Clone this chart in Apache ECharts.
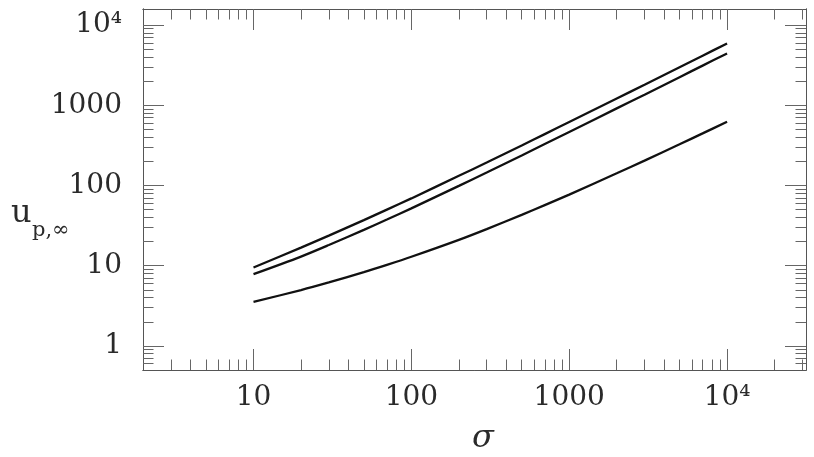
<!DOCTYPE html>
<html><head><meta charset="utf-8">
<script src="https://cdn.jsdelivr.net/npm/echarts@6/dist/echarts.min.js"></script>
<style>html,body{margin:0;padding:0;background:#fff}#c{width:814px;height:457px}</style>
</head><body><div id="c"></div>
<script>
// ---- data ----
const sigma = [10, 20, 30, 50, 70, 100, 200, 300, 500, 700, 1000, 2000, 3000, 5000, 7000, 10000];
const uTop  = [9.5, 16.8, 23.7, 37, 50, 69, 132, 193, 315, 437, 618, 1215, 1800, 2980, 4150, 5900];
const uMid  = [7.85, 13.0, 18.1, 28, 37.6, 51.9, 99, 145, 237, 329, 465, 914, 1353, 2240, 3120, 4430];
const uBot  = [3.54, 4.97, 6.19, 8.32, 10.25, 12.93, 21.0, 28.6, 43.0, 56.9, 77.0, 141.8, 204, 326, 446, 623];

const xMajor = [10, 100, 1000, 10000];
const xMajorLabels = ['10', '100', '1000', '10⁴'];
const xMinor = [3, 4, 5, 6, 7, 8, 9, 20, 30, 40, 50, 60, 70, 80, 90, 200, 300, 400, 500, 600, 700, 800, 900,
                2000, 3000, 4000, 5000, 6000, 7000, 8000, 9000, 20000, 30000];
const yMajor = [1, 10, 100, 1000, 10000];
const yMajorLabels = ['1', '10', '100', '1000', '10⁴'];
const yMinor = [0.6, 0.7, 0.8, 0.9, 2, 3, 4, 5, 6, 7, 8, 9, 20, 30, 40, 50, 60, 70, 80, 90,
                200, 300, 400, 500, 600, 700, 800, 900, 2000, 3000, 4000, 5000, 6000, 7000, 8000, 9000];

const xMin = Math.pow(10, 0.3), xMax = Math.pow(10, 4.5);
const yMin = Math.pow(10, -0.3), yMax = Math.pow(10, 4.2);

// ---- styling ----
const FONT = '"DejaVu Serif"';
const TEXT = '#2a2a2a';
const frameColor = '#555';
const tickColor = '#666';
const MAJ = 21, MIN = 10.5;

function lookup(vals, labels, v) {
  for (let i = 0; i < vals.length; i++) {
    if (Math.abs(Math.log10(vals[i]) - Math.log10(v)) < 1e-6) return labels[i];
  }
  return '';
}

function mkAxis(min, max, position, ticks, len, label) {
  const ax = {
    type: 'log', logBase: 10, gridIndex: 0, min: min, max: max, position: position,
    splitLine: { show: false },
    axisLine: { show: true, onZero: false, lineStyle: { color: frameColor, width: 1 } },
    axisTick: { show: true, inside: true, length: len, customValues: ticks,
                lineStyle: { color: tickColor, width: 1 } },
    axisLabel: { show: false }
  };
  if (label) ax.axisLabel = label;
  return ax;
}

const chart = echarts.init(document.getElementById('c'), null, { renderer: 'canvas' });

const option = {
  animation: false,
  backgroundColor: '#fff',
  grid: { left: 143, top: 9, width: 663, height: 361, containLabel: false },
  xAxis: [
    mkAxis(xMin, xMax, 'bottom', xMajor, MAJ, {
      show: true, customValues: xMajor, margin: 14, hideOverlap: false,
      fontFamily: FONT, fontSize: 28, color: TEXT,
      formatter: v => lookup(xMajor, xMajorLabels, v)
    }),
    mkAxis(xMin, xMax, 'bottom', xMinor, MIN),
    mkAxis(xMin, xMax, 'top', xMajor, MAJ),
    mkAxis(xMin, xMax, 'top', xMinor, MIN)
  ],
  yAxis: [
    mkAxis(yMin, yMax, 'left', yMajor, MAJ, {
      show: true, customValues: yMajor, margin: 21, hideOverlap: false,
      fontFamily: FONT, fontSize: 28, color: TEXT,
      formatter: v => lookup(yMajor, yMajorLabels, v)
    }),
    mkAxis(yMin, yMax, 'left', yMinor, MIN),
    mkAxis(yMin, yMax, 'right', yMajor, MAJ),
    mkAxis(yMin, yMax, 'right', yMinor, MIN)
  ],
  series: [uTop, uMid, uBot].map(arr => ({
    type: 'line', xAxisIndex: 0, yAxisIndex: 0,
    symbol: 'none', showSymbol: false, smooth: 0.3,
    lineStyle: { color: '#111', width: 2.3 },
    data: sigma.map((s, i) => [s, arr[i]])
  })),
  graphic: [
    { type: 'text', x: 483, y: 439,
      style: { text: 'σ', font: 'italic 32px ' + FONT, fill: TEXT,
               align: 'center', verticalAlign: 'middle', textAlign: 'center', textVerticalAlign: 'middle' } },
    { type: 'text', x: 11, y: 213.5,
      style: { text: 'u', font: '32px ' + FONT, fill: TEXT,
               align: 'left', verticalAlign: 'middle', textAlign: 'left', textVerticalAlign: 'middle' } },
    { type: 'text', x: 32, y: 230.5,
      style: { text: 'p,∞', font: '21px ' + FONT, fill: TEXT,
               align: 'left', verticalAlign: 'middle', textAlign: 'left', textVerticalAlign: 'middle' } }
  ]
};
chart.setOption(option);
</script>
</body></html>
